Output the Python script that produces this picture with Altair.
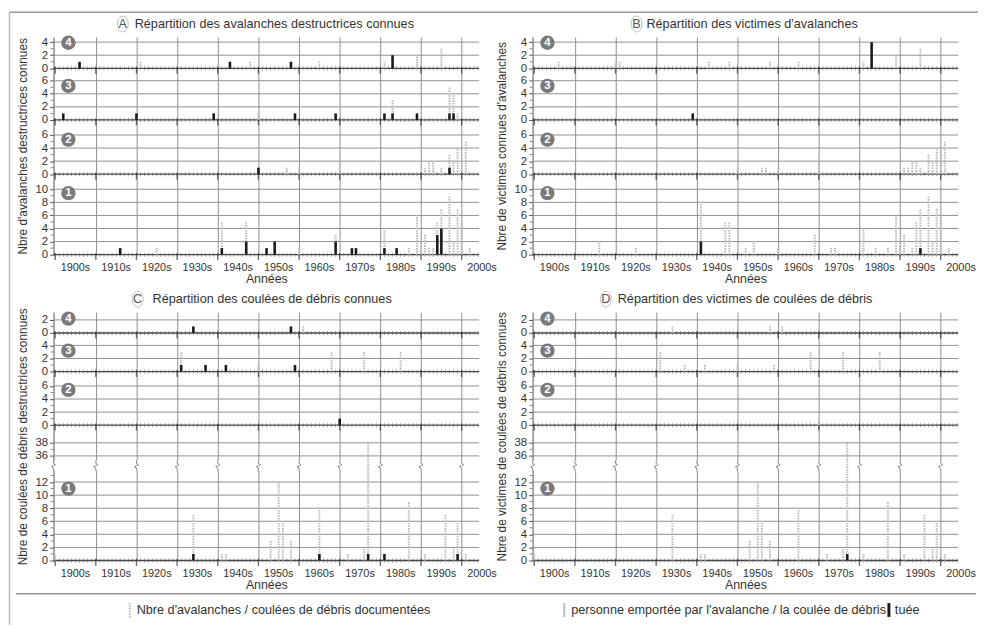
import json
import altair as alt
import pandas as pd

# ---------------- data ----------------
DECADES = list(range(1910, 2001, 10))
DECADE_LABEL_YEARS = list(range(1905, 2006, 10))
DECADE_LABELS = [f"{d}s" for d in range(1900, 2001, 10)]
YEARS = list(range(1900, 2005))

# panel A : known destructive avalanches (gray = documented, black = destructive)
A_DOC = {
    4: [(1921, 1), (1948, 1), (1965, 1), (1981, 1), (1989, 2), (1995, 3)],
    3: [(1950, 1), (1983, 3), (1997, 5), (1998, 4), (1999, 1)],
    2: [(1957, 1), (1960, 1), (1970, 3), (1991, 1), (1992, 2), (1993, 2), (1995, 1),
        (1997, 3), (1998, 2), (1999, 4), (2001, 5)],
    1: [(1925, 1), (1941, 5), (1947, 5), (1960, 1), (1969, 3), (1981, 4), (1987, 1),
        (1989, 6), (1990, 2), (1991, 3), (1992, 1), (1993, 1), (1994, 5), (1995, 7),
        (1997, 9), (1998, 2), (1999, 7), (2000, 5), (2002, 1)],
}
A_DESTR = {
    4: [(1906, 1), (1943, 1), (1958, 1), (1983, 2)],
    3: [(1902, 1), (1920, 1), (1939, 1), (1959, 1), (1969, 1), (1981, 1), (1983, 1),
        (1989, 1), (1997, 1), (1998, 1)],
    2: [(1950, 1), (1997, 1)],
    1: [(1916, 1), (1941, 1), (1947, 2), (1952, 1), (1954, 2), (1969, 2), (1973, 1),
        (1974, 1), (1981, 1), (1984, 1), (1994, 3), (1995, 4)],
}
# panel B : avalanche victims (gray = carried away, black = killed)
B_CARRIED = {
    4: [(1906, 1), (1920, 1), (1921, 1), (1943, 1), (1948, 1), (1958, 1), (1965, 1),
        (1981, 1), (1989, 2), (1995, 3)],
    3: [(1939, 1)],
    2: [(1950, 1), (1956, 1), (1957, 1), (1960, 1), (1970, 3), (1991, 1), (1992, 1),
        (1993, 2), (1994, 2), (1995, 1), (1997, 3), (1998, 2), (1999, 4), (2000, 4),
        (2001, 5)],
    1: [(1916, 2), (1925, 1), (1941, 8), (1947, 5), (1948, 5), (1952, 1), (1954, 2),
        (1960, 1), (1969, 3), (1973, 1), (1974, 1), (1981, 4), (1984, 1), (1987, 1),
        (1989, 6), (1990, 2), (1991, 3), (1993, 1), (1994, 5), (1995, 7), (1997, 9),
        (1998, 2), (1999, 7), (2000, 6), (2002, 1)],
}
B_KILLED = {4: [(1983, 4)], 3: [(1939, 1)], 2: [], 1: [(1941, 2), (1995, 1)]}
# panel C : known debris flows
C_DOC = {
    4: [(1961, 1)],
    3: [(1931, 3), (1950, 1), (1968, 3), (1976, 3), (1985, 3)],
    2: [],
    1: [(1900, 1), (1934, 7), (1941, 1), (1942, 1), (1953, 3), (1955, 12), (1956, 6),
        (1958, 3), (1965, 8), (1972, 1), (1976, 2), (1977, 38), (1981, 1), (1987, 9),
        (1991, 1), (1996, 7), (1998, 2), (1999, 6), (2001, 1)],
}
C_DESTR = {
    4: [(1934, 1), (1958, 1)],
    3: [(1931, 1), (1937, 1), (1942, 1), (1959, 1)],
    2: [(1970, 1)],
    1: [(1934, 1), (1965, 1), (1977, 1), (1981, 1), (1999, 1)],
}
# panel D : debris-flow victims
D_CARRIED = {
    4: [(1934, 1), (1958, 1), (1961, 1)],
    3: [(1931, 3), (1937, 1), (1942, 1), (1950, 1), (1959, 1), (1968, 3), (1976, 3), (1985, 3)],
    2: [(1970, 1)],
    1: [(1900, 1), (1934, 7), (1941, 1), (1942, 1), (1953, 3), (1955, 12), (1956, 6),
        (1958, 3), (1965, 8), (1972, 1), (1976, 2), (1977, 38), (1981, 1), (1987, 9),
        (1991, 1), (1996, 7), (1998, 2), (1999, 6), (2001, 1)],
}
D_KILLED = {4: [], 3: [], 2: [], 1: [(1977, 1)]}

# row extents (axis units) and tick values
SPAN_AB = {1: 12.3, 2: 8.3, 3: 7.9, 4: 4.8}
TICKS_AB = {1: [0, 2, 4, 6, 8, 10], 2: [0, 2, 4, 6], 3: [0, 2, 4, 6], 4: [0, 2, 4]}
BADGE_AB = {1: 9.4, 2: 5.3, 3: 5.2, 4: 3.9}
SPAN_CD = {1: 20.7, 2: 8.2, 3: 5.9, 4: 3.2}
TICKS_CD = {1: [0, 2, 4, 6, 8, 10, 12, 36, 38], 2: [0, 2, 4, 6], 3: [0, 2, 4], 4: [0, 2]}
BADGE_CD = {1: 11.0, 2: 5.4, 3: 3.2, 4: 2.2}

GRAY = "#bdbdbd"
DARK = "#1a1a1a"
GRID = "#909090"
TXT = "#333333"
W = 430
FS_TITLE = 12.8
ELLIPSE = "M0,-1A0.68,1,0,1,1,0,1A0.68,1,0,1,1,0,-1Z"
ZIGZAG = "M0,-1L0,-0.45L0.4,-0.2L-0.4,0.2L0,0.45L0,1"


def one(**kw):
    return pd.DataFrame([kw]) if kw else pd.DataFrame([{"k": 0}])


def panel(doc, kill, spans, ticks, badge, brk, letter, letter_dx, title, title_dx,
          ytitle, height, extras=()):
    order = [1, 2, 3, 4]
    base, acc = {}, 0.0
    for r in order:
        base[r] = round(acc, 3)
        acc += spans[r]
    top = round(acc, 3)

    def tr(r, v):
        return v - 20 if (brk and r == 1 and v > 14) else v

    xscale = alt.Scale(domain=[1899.6, 2004.3], nice=False, zero=False)
    xaxis = alt.Axis(values=DECADES, grid=True, gridColor=GRID, gridWidth=1, labels=False,
                     ticks=False, domain=False, title="Années", titleFontSize=12.5,
                     titleFontWeight="normal", titleColor=TXT, titlePadding=18)
    X = alt.X("year:Q", scale=xscale, axis=xaxis)

    major_pos, major_lab, minor_pos = [], [], []
    for r in order:
        for t in ticks[r]:
            major_pos.append(round(base[r] + tr(r, t), 3))
            major_lab.append(str(t))
        for t in range(1, max(ticks[r]), 2):
            if brk and r == 1 and 13 < t < 36:
                continue
            minor_pos.append(round(base[r] + tr(r, t), 3))
    label_expr = f"{json.dumps(major_lab)}[indexof({json.dumps(major_pos)}, datum.value)]"
    yaxis = alt.Axis(values=major_pos, labelExpr=label_expr, grid=False, tickSize=4,
                     tickColor="#555", domainColor="#555", labelFontSize=11.5,
                     labelColor=TXT, labelPadding=2, labelOverlap=False, labelFlush=False,
                     title=ytitle, titleFontSize=12, titleFontWeight="normal",
                     titleColor=TXT, titleX=-31, titleY=height / 2, titleAngle=270,
                     titleBaseline="middle", titleAlign="center")
    Y = alt.Y("y:Q", scale=alt.Scale(domain=[0, top], nice=False, zero=False), axis=yaxis)

    bases = [base[r] for r in order]
    grid_df = pd.DataFrame({"y": [p for p in major_pos if p not in bases]})
    base_df = pd.DataFrame({"y": bases})
    minor_df = pd.DataFrame({"y": minor_pos})
    yt_df = pd.DataFrame([{"year": yr, "y": b} for yr in YEARS for b in bases])
    dt_df = pd.DataFrame([{"year": yr, "y": b} for yr in range(1900, 2001, 10) for b in bases])

    def bars(d):
        rows = [{"year": yr, "y": base[r], "y2": base[r] + tr(r, v)}
                for r, lst in d.items() for (yr, v) in lst]
        return pd.DataFrame(rows if rows else [{"year": 1950, "y": 0, "y2": 0}])

    layers = [
        alt.Chart(grid_df).mark_rule(color=GRID, strokeWidth=1).encode(y=Y),
        alt.Chart(base_df).mark_rule(color="#444", strokeWidth=1.3).encode(y=Y),
        alt.Chart(minor_df).mark_tick(orient="horizontal", size=3, thickness=1, color="#555")
        .encode(y=Y, x=alt.value(-1.5)),
        alt.Chart(yt_df).mark_tick(orient="vertical", size=4, thickness=0.8, color="#666")
        .encode(x=X, y=Y),
        alt.Chart(dt_df).mark_tick(orient="vertical", size=7, thickness=1.4, color="#333", yOffset=2)
        .encode(x=X, y=Y),
        alt.Chart(bars(doc)).mark_rule(color=GRAY, strokeWidth=2, strokeDash=[1.6, 1])
        .encode(x=X, y=Y, y2=alt.Y2("y2:Q")),
        alt.Chart(bars(kill)).mark_rule(color=DARK, strokeWidth=2.6)
        .encode(x=X, y=Y, y2=alt.Y2("y2:Q")),
    ]
    if brk:
        zz = pd.DataFrame({"year": [1899.6] + DECADES, "y": [14.5] * (len(DECADES) + 1)})
        layers += [
            alt.Chart(zz).mark_tick(orient="vertical", size=10, thickness=4, color="white", opacity=1)
            .encode(x=X, y=Y),
            alt.Chart(zz).mark_point(shape=ZIGZAG, filled=False, size=110, stroke="#888",
                                     strokeWidth=1, opacity=1).encode(x=X, y=Y),
        ]
    bdf = pd.DataFrame({"y": [base[r] + badge[r] for r in order], "lab": [str(r) for r in order]})
    layers += [
        alt.Chart(bdf).mark_point(shape="circle", filled=True, size=210, color="#7a7a7a", opacity=1)
        .encode(x=alt.value(15), y=Y),
        alt.Chart(bdf).mark_text(color="white", fontWeight="bold", fontSize=11.5, baseline="middle")
        .encode(x=alt.value(15), y=Y, text="lab:N"),
        alt.Chart(pd.DataFrame({"year": DECADE_LABEL_YEARS, "lab": DECADE_LABELS}))
        .mark_text(fontSize=11, color=TXT, baseline="middle")
        .encode(x=X, y=alt.value(height + 14), text="lab:N"),
        alt.Chart(one(t=title)).mark_text(align="left", baseline="middle", fontSize=FS_TITLE, color=TXT)
        .encode(x=alt.value(title_dx), y=alt.value(-13), text="t:N"),
        alt.Chart(one(t=letter)).mark_text(align="center", baseline="middle", fontSize=FS_TITLE, color="#555")
        .encode(x=alt.value(letter_dx), y=alt.value(-13), text="t:N"),
        alt.Chart(one()).mark_point(shape=ELLIPSE, filled=False, size=256, stroke="#aaa",
                                    strokeWidth=0.8, opacity=1)
        .encode(x=alt.value(letter_dx), y=alt.value(-13)),
    ]
    layers += list(extras)
    return alt.layer(*layers).properties(width=W, height=height)


# decorations: frame, separator and legend
frame = [
    alt.Chart(one()).mark_rule(color="#999", strokeWidth=1.5)
    .encode(x=alt.value(-44.5), x2=alt.value(934), y=alt.value(-25)),
    alt.Chart(one()).mark_rule(color="#bbb", strokeWidth=1.5)
    .encode(x=alt.value(-44.5), y=alt.value(-25), y2=alt.value(594)),
]
legend_left = [
    alt.Chart(one()).mark_rule(color="#999", strokeWidth=1.5)
    .encode(x=alt.value(-38), x2=alt.value(932), y=alt.value(284.5)),
    alt.Chart(one()).mark_rule(color=GRAY, strokeWidth=2, strokeDash=[1.6, 1])
    .encode(x=alt.value(77), y=alt.value(294), y2=alt.value(309)),
    alt.Chart(one(t="Nbre d'avalanches / coulées de débris documentées"))
    .mark_text(align="left", baseline="middle", fontSize=FS_TITLE, color=TXT)
    .encode(x=alt.value(84), y=alt.value(301.5), text="t:N"),
]
legend_right = [
    alt.Chart(one()).mark_rule(color=GRAY, strokeWidth=2)
    .encode(x=alt.value(32), y=alt.value(294), y2=alt.value(308)),
    alt.Chart(one(t="personne emportée par l'avalanche / la coulée de débris"))
    .mark_text(align="left", baseline="middle", fontSize=FS_TITLE, color=TXT)
    .encode(x=alt.value(39), y=alt.value(301), text="t:N"),
    alt.Chart(one()).mark_rule(color=DARK, strokeWidth=3)
    .encode(x=alt.value(360), y=alt.value(294), y2=alt.value(308)),
    alt.Chart(one(t="tuée"))
    .mark_text(align="left", baseline="middle", fontSize=FS_TITLE, color=TXT)
    .encode(x=alt.value(366), y=alt.value(301), text="t:N"),
]

pA = panel(A_DOC, A_DESTR, SPAN_AB, TICKS_AB, BADGE_AB, False, "A", 70,
           "Répartition des avalanches destructrices connues", 82,
           "Nbre d'avalanches destructrices connues", 220, frame)
pB = panel(B_CARRIED, B_KILLED, SPAN_AB, TICKS_AB, BADGE_AB, False, "B", 105,
           "Répartition des victimes d'avalanches", 115,
           "Nbre de victimes connues d'avalanches", 220)
pC = panel(C_DOC, C_DESTR, SPAN_CD, TICKS_CD, BADGE_CD, True, "C", 85,
           "Répartition des coulées de débris connues", 100,
           "Nbre de coulées de débris destructrices connues", 251, legend_left)
pD = panel(D_CARRIED, D_KILLED, SPAN_CD, TICKS_CD, BADGE_CD, True, "D", 74,
           "Répartition des victimes de coulées de débris", 86,
           "Nbre de victimes de coulées de débris connues", 251, legend_right)

chart = (
    alt.concat(pA, pB, pC, pD, columns=2,
               spacing=alt.RowColnumber(row=58, column=54), bounds="flush")
    .properties(padding=0, background="white")
    .configure(font="Liberation Sans")
    .configure_view(stroke=None)
)
chart.save("out.html", embed_options={"renderer": "svg", "actions": False})
